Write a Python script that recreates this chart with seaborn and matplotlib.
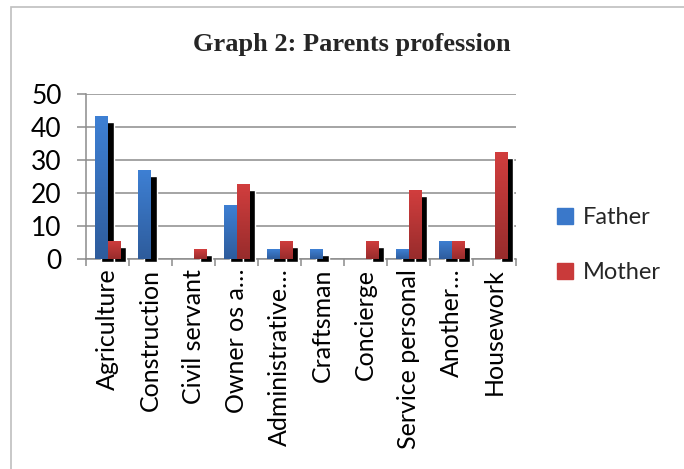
import numpy as np
import pandas as pd
import matplotlib.pyplot as plt
import seaborn as sns
from matplotlib.colors import LinearSegmentedColormap
from matplotlib.patches import Patch, Rectangle

professions = ["Agriculture", "Construction", "Civil servant", "Owner os a…",
               "Administrative…", "Craftsman", "Concierge", "Service personal",
               "Another…", "Housework"]
father = [43.4, 27.0, 0, 16.4, 3.0, 3.0, 0, 3.0, 5.5, 0]
mother = [5.5, 0, 3.0, 22.8, 5.5, 0, 5.5, 21.0, 5.5, 32.5]
parents = ["Father", "Mother"]
yticks = [0, 10, 20, 30, 40, 50]

df = pd.DataFrame({
    "profession": professions * 2,
    "parent": [parents[0]] * len(father) + [parents[1]] * len(mother),
    "value": father + mother,
})

blue, red = "#3A78CA", "#C93A3A"
cmaps = [LinearSegmentedColormap.from_list("b", ["#2E5C9C", "#3E80D4"]),
         LinearSegmentedColormap.from_list("r", ["#982C2C", "#D23E3E"])]
grid_col = "#8C8C8C"

sns.set_style("white")
plt.rcParams["font.family"] = ["Lato", "DejaVu Sans"]

fig = plt.figure(figsize=(6.84, 4.69), dpi=100)
ax = fig.add_axes([86 / 684, 1 - 259 / 469, 430 / 684, 165 / 469])

sns.barplot(data=df, x="profession", y="value", hue="parent",
            palette=[blue, red], width=0.6, saturation=1, legend=False,
            ax=ax, zorder=3, edgecolor="none")

# Excel style drop shadow + vertical gradient on every bar
dx, dtop, dbot = 0.14, 1.8, 0.9
for cont, cm in zip(ax.containers, cmaps):
    for p in cont.patches:
        h = p.get_height()
        if h <= 0:
            continue
        x, w = p.get_x(), p.get_width()
        ax.bar(x + dx, h - dtop + dbot, bottom=-dbot, width=w, align="edge",
               color="black", zorder=2.8, clip_on=False)
        grad = np.linspace(0, 1, 128).reshape(-1, 1)
        im = ax.imshow(grad, extent=[x, x + w, 0, h], cmap=cm, aspect="auto",
                       origin="lower", zorder=3.1)
        im.set_clip_path(p)

ax.set_xlim(-0.5, len(professions) - 0.5)
ax.set_ylim(0, 50)
ax.set_yticks(yticks)
ax.set_xlabel("")
ax.set_ylabel("")

ax.yaxis.grid(True, color=grid_col, lw=1.1)
ax.set_axisbelow(True)
for s in ["top", "right"]:
    ax.spines[s].set_visible(False)
for s in ["left", "bottom"]:
    ax.spines[s].set_color(grid_col)
    ax.spines[s].set_linewidth(1.1)

ax.tick_params(axis="y", which="major", left=True, length=6.5, width=1.1,
               color=grid_col, pad=11, labelsize=19, labelcolor="black")
ax.set_xticks(range(len(professions)))
ax.set_xticklabels(professions, rotation=90)
ax.tick_params(axis="x", which="major", length=0, pad=7, labelsize=18,
               labelcolor="black")
ax.set_xticks(np.arange(-0.5, len(professions)), minor=True)
ax.tick_params(axis="x", which="minor", bottom=True, length=5, width=1.1,
               color=grid_col)

fig.text(352 / 684, 1 - 45 / 469, "Graph 2: Parents profession",
         family="Liberation Serif", weight="bold", fontsize=19,
         ha="center", va="center")

handles = [Patch(color=blue), Patch(color=red)]
fig.legend(handles, parents, loc="upper left", frameon=False,
           bbox_to_anchor=(557 / 684, 1 - 207 / 469), fontsize=17,
           handlelength=0.68, handleheight=0.68, handletextpad=0.4,
           labelspacing=1.45, borderpad=0, borderaxespad=0)

fig.patches.append(Rectangle((11 / 684, -0.1), 1.2, 1 - 7 / 469 + 0.1,
                             transform=fig.transFigure, fill=False,
                             ec="#BFBFBF", lw=1.2))

fig.savefig("out.png", dpi=100)
